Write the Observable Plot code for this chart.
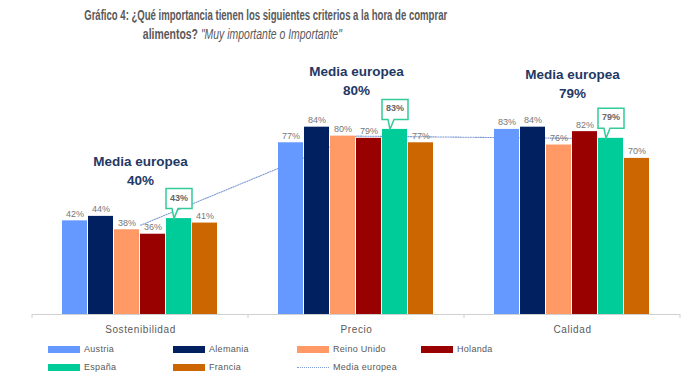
<!DOCTYPE html>
<html>
<head>
<meta charset="utf-8">
<script src="https://cdn.jsdelivr.net/npm/d3@7"></script>
<script src="https://cdn.jsdelivr.net/npm/@observablehq/plot@0.6"></script>
<style>
  html, body { margin: 0; padding: 0; background: #fff; }
  #wrap { position: relative; width: 700px; height: 377px; overflow: hidden; font-family: "Liberation Sans", Arial, sans-serif; }
  .tline { position: absolute; left: 0; width: 484px; text-align: center; color: #595959; white-space: nowrap;
           font-family: "Liberation Sans", Arial, sans-serif; font-weight: bold; font-size: 14px; line-height: 18px; }
  .tline span { display: inline-block; transform-origin: 50% 50%; }
  .tline i { font-weight: normal; }
  .layer { position: absolute; left: 0; top: 45px; }
  #legend { position: absolute; left: 0; top: 340px; width: 700px; height: 37px; }
  .item { position: absolute; display: flex; align-items: center; font-size: 9px; color: #595959; letter-spacing: 0.3px; }
  .sw { width: 32px; height: 7px; margin-right: 4px; box-sizing: border-box; }
  .bars g[aria-label^="fx-axis"] text { letter-spacing: 0.6px; }
</style>
</head>
<body>
<div id="wrap">
  <div class="tline" style="top:6px"><span id="t1" data-w="363">Gráfico 4: ¿Qué importancia tienen los siguientes criterios a la hora de comprar</span></div>
  <div class="tline" style="top:25px"><span id="t2" data-w="199">alimentos? <i>"Muy importante o Importante"</i></span></div>
  <div id="lineLayer" class="layer"></div>
  <div id="barLayer" class="layer"></div>
  <div id="legend"></div>
</div>
<script>
// ---- data ----
const categories = ["Sostenibilidad", "Precio", "Calidad"];
const countries = ["Austria", "Alemania", "Reino Unido", "Holanda", "España", "Francia"];
const colors = ["#6699ff", "#002060", "#ff9966", "#990000", "#00cc99", "#cc6600"];
const valuesSostenibilidad = [42, 44, 38, 36, 43, 41];
const valuesPrecio = [77, 84, 80, 79, 83, 77];
const valuesCalidad = [83, 84, 76, 82, 79, 70];
const mediaEuropea = [40, 80, 79];
const highlight = "España";

// fit title lines to the reference widths
["t1", "t2"].forEach(id => {
  const el = document.getElementById(id);
  const w = el.getBoundingClientRect().width;
  el.style.transform = "scaleX(" + (+el.dataset.w / w) + ")";
});

const seriesByCat = [valuesSostenibilidad, valuesPrecio, valuesCalidad];
const data = [];
categories.forEach((c, i) => countries.forEach((k, j) => data.push({cat: c, country: k, value: seriesByCat[i][j]})));
const means = categories.map((c, i) => ({cat: c, value: mediaEuropea[i]}));

const W = 700, H = 299, mt = 46, mb = 30, ml = 32, mr = 20;
const lineColor = "#7f9bd3";
const calloutColor = "#33cc99";

// callout symbol: box with a small tail pointing down
const callout = {
  draw(ctx) {
    ctx.moveTo(-13, -10);
    ctx.lineTo(13, -10);
    ctx.lineTo(13, 10);
    ctx.lineTo(-1, 10);
    ctx.lineTo(-5, 20);
    ctx.lineTo(-7, 10);
    ctx.lineTo(-13, 10);
    ctx.closePath();
  }
};

// ---- background layer: European average line + labels ----
const linePlot = Plot.plot({
  width: W, height: H, marginTop: mt, marginBottom: mb, marginLeft: ml, marginRight: mr,
  x: {type: "point", domain: categories, padding: 0.5, axis: null},
  y: {domain: [0, 100], axis: null},
  style: {background: "transparent", fontFamily: "Liberation Sans, Arial, sans-serif"},
  marks: [
    Plot.line(means, {x: "cat", y: "value", stroke: lineColor, strokeWidth: 1.1, strokeDasharray: "1.2,1.3"}),
    Plot.text(means, {x: "cat", y: "value", text: () => "Media europea", dy: -64, fill: "#1f3864", fontSize: 13.5, fontWeight: "bold"}),
    Plot.text(means, {x: "cat", y: "value", text: d => d.value + "%", dy: -45, fill: "#1f3864", fontSize: 13.5, fontWeight: "bold"})
  ]
});
document.getElementById("lineLayer").appendChild(linePlot);

// ---- bars layer ----
const others = data.filter(d => d.country !== highlight);
const hl = data.filter(d => d.country === highlight);
const bars = Plot.plot({
  width: W, height: H, marginTop: mt, marginBottom: mb, marginLeft: ml, marginRight: mr,
  fx: {domain: categories, padding: 0, axis: "bottom", label: null, tickSize: 0, tickPadding: 11},
  x: {domain: countries, axis: null, paddingInner: 0.03, paddingOuter: 1.1},
  y: {domain: [0, 100], axis: null},
  color: {domain: countries, range: colors},
  style: {background: "transparent", fontFamily: "Liberation Sans, Arial, sans-serif", fontSize: "10px", color: "#595959"},
  marks: [
    Plot.ruleY([0], {stroke: "#d0d0d0", strokeWidth: 1}),
    Plot.barY(data, {fx: "cat", x: "country", y: "value", fill: "country"}),
    Plot.text(others, {fx: "cat", x: "country", y: "value", text: d => d.value + "%", dy: -7, fill: "#777", fontSize: 9}),
    Plot.dot(hl, {fx: "cat", x: "country", y: "value", symbol: callout, r: 5, dy: -20, fill: "white", stroke: calloutColor, strokeWidth: 1.5}),
    Plot.text(hl, {fx: "cat", x: "country", y: "value", text: d => d.value + "%", dy: -21, fill: "#666", fontSize: 9, fontWeight: "bold"})
  ]
});
bars.classList.add("bars");
document.getElementById("barLayer").appendChild(bars);

// boundary ticks of the category axis, from the library's scales
try {
  const fx = bars.scale("fx");
  const y = bars.scale("y");
  const y0 = y.apply(0);
  const edges = categories.map(c => fx.apply(c));
  edges.push(fx.apply(categories[categories.length - 1]) + fx.bandwidth);
  d3.select(bars).append("g").selectAll("line").data(edges).join("line")
    .attr("x1", d => d).attr("x2", d => d)
    .attr("y1", y0).attr("y2", y0 + 4)
    .attr("stroke", "#d0d0d0");
} catch (e) { console.error(e); }

// ---- legend ----
const legend = document.getElementById("legend");
const legendItems = countries.map((k, i) => ({label: k, color: colors[i]})).concat([{label: "Media europea", line: true}]);
const colX = [48, 173, 297, 421];
const rowY = [4, 22];
legendItems.forEach((it, i) => {
  const el = document.createElement("div");
  el.className = "item";
  el.style.left = colX[i % 4] + "px";
  el.style.top = rowY[Math.floor(i / 4)] + "px";
  const sw = document.createElement("div");
  sw.className = "sw";
  if (it.line) {
    sw.style.height = "1px";
    sw.style.borderTop = "1px dotted " + lineColor;
  } else {
    sw.style.background = it.color;
  }
  const tx = document.createElement("span");
  tx.textContent = it.label;
  el.appendChild(sw);
  el.appendChild(tx);
  legend.appendChild(el);
});
</script>
</body>
</html>
